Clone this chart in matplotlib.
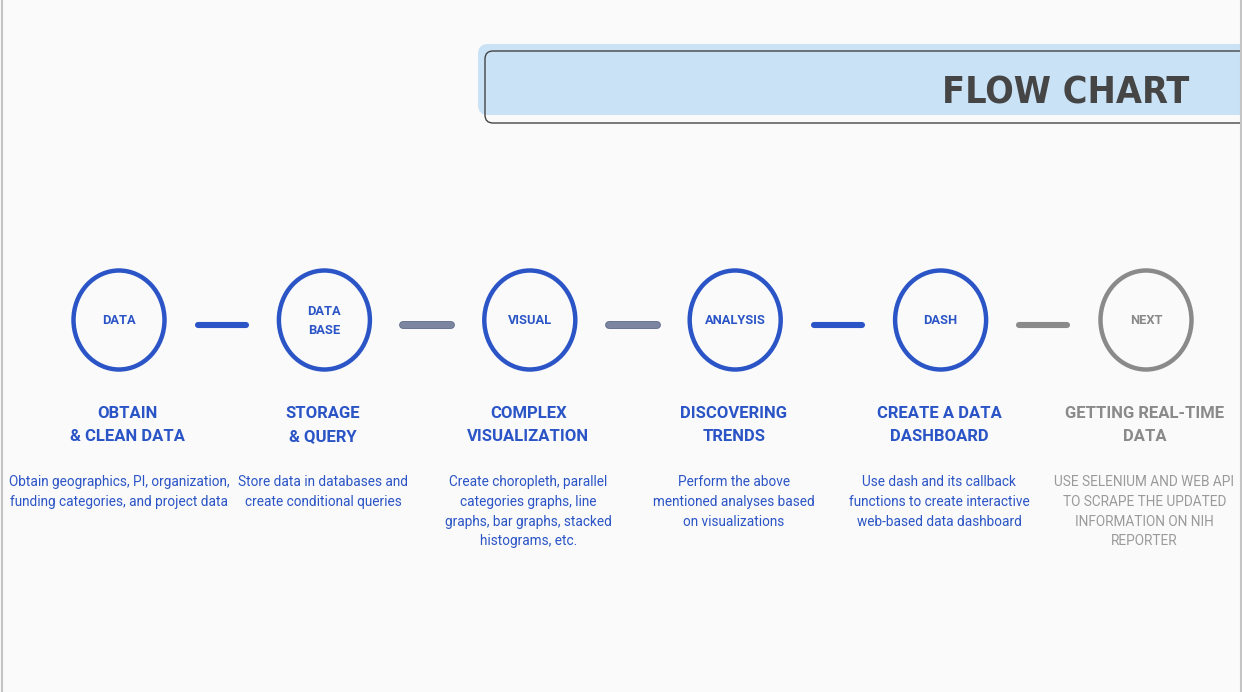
import matplotlib
matplotlib.use("Agg")
import matplotlib.pyplot as plt
from matplotlib.patches import Ellipse, FancyBboxPatch
import matplotlib.patheffects as pe

# step contents
step_labels = ["DATA", "DATA\nBASE", "VISUAL", "ANALYSIS", "DASH", "NEXT"]
step_titles = ["OBTAIN\n& CLEAN DATA", "STORAGE\n& QUERY", "COMPLEX\nVISUALIZATION",
               "DISCOVERING\nTRENDS", "CREATE A DATA\nDASHBOARD", "GETTING REAL-TIME\nDATA"]
step_texts = [
    "Obtain geographics, PI, organization,\nfunding categories, and project data",
    "Store data in databases and\ncreate conditional queries",
    "Create choropleth, parallel\ncategories graphs, line\ngraphs, bar graphs, stacked\nhistograms, etc.",
    "Perform the above\nmentioned analyses based\non visualizations",
    "Use dash and its callback\nfunctions to create interactive\nweb-based data dashboard",
    "USE SELENIUM AND WEB API\nTO SCRAPE THE UPDATED\nINFORMATION ON NIH\nREPORTER",
]
step_done = [True, True, True, True, True, False]
# connector style between steps: "blue", "slate", "grey"
links = ["blue", "slate", "slate", "blue", "grey"]

BLUE = "#2b55c6"
GREY = "#8a8a8a"
SLATE = "#7d86a0"
BG = "#fafafa"

W, H = 1242, 692
fig = plt.figure(figsize=(W / 100, H / 100), dpi=100, facecolor=BG)
ax = fig.add_axes([0, 0, 1, 1])
ax.set_xlim(0, W)
ax.set_ylim(H, 0)
ax.axis("off")
ax.set_facecolor(BG)

# frame lines at left/right edges
ax.plot([1.5, 1.5], [0, H], color="#c4c4c4", lw=1.5)
ax.plot([W - 1.5, W - 1.5], [0, H], color="#c4c4c4", lw=1.5)

# title banner
ax.add_patch(FancyBboxPatch((478 + 10, 44 + 10), 800, 71 - 20,
                            boxstyle="round,pad=10", fc="#c9e2f6", ec="none"))
ax.add_patch(FancyBboxPatch((485 + 8, 51 + 8), 800, 72 - 16,
                            boxstyle="round,pad=8", fc="none", ec="#444444", lw=1.0))
ax.text(1189, 93, "FLOW CHART", ha="right", va="center", fontsize=27,
        fontweight="bold", fontstretch="condensed", color="#454545", family="DejaVu Sans")

x0, dx = 119, 205.4
cy = 320
for i, lab in enumerate(step_labels):
    x = x0 + i * dx
    col = BLUE if step_done[i] else GREY
    ax.add_patch(Ellipse((x, cy), 91, 99, fill=False, ec=col, lw=3.2))
    ax.text(x, cy + 1, lab, ha="center", va="center", fontsize=9.3, fontweight="bold",
            color=col, family="Roboto", linespacing=1.55)
    tx = x + 8 if i == 0 else x - 1.5
    ax.text(tx, 425, step_titles[i], ha="center", va="center",
            fontsize=12, fontweight="bold", color=col, family="Roboto", linespacing=1.7)
    ax.text(x if i == 0 else tx, 475, step_texts[i], ha="center", va="top",
            fontsize=9.8, color=BLUE if step_done[i] else "#9a9a9a", family="Roboto",
            linespacing=1.53)

link_cols = {"blue": BLUE, "slate": SLATE, "grey": GREY}
for i, kind in enumerate(links):
    xm = x0 + (i + 0.5) * dx
    line, = ax.plot([xm - 24, xm + 24], [324.5, 324.5], color=link_cols[kind], lw=4.4,
                    solid_capstyle="round")
    if kind == "slate":
        line.set_path_effects([pe.Stroke(linewidth=5.6, foreground="#5a6688"), pe.Normal()])

fig.savefig("out.png", dpi=100, facecolor=BG)
